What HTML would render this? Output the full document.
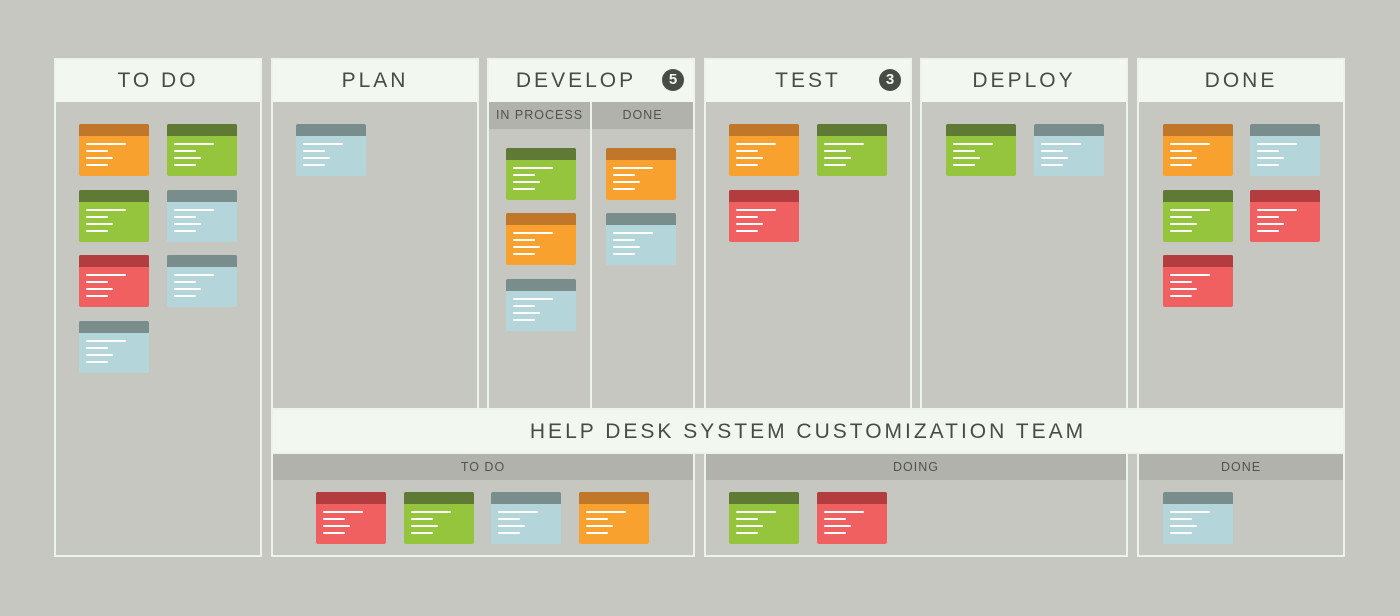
<!DOCTYPE html>
<html><head><meta charset="utf-8"><style>
body{margin:0;width:1400px;height:616px;background:#c6c7c1;position:relative;overflow:hidden;font-family:"Liberation Sans",sans-serif;}
.a{position:absolute;box-sizing:border-box;}
.col{border:2px solid #eef2ec;}
.hd{background:#f2f7f0;color:#474d46;font-size:21px;letter-spacing:3px;text-align:center;line-height:42px;}
.sh{background:#b1b2ab;color:#4f544d;font-size:12.5px;letter-spacing:1px;text-align:center;line-height:27px;}
.badge{position:absolute;width:22px;height:22px;border-radius:50%;background:#474d46;color:#f2f7f0;font-size:15px;line-height:22px;text-align:center;letter-spacing:0;font-weight:bold;}
.c{position:absolute;width:70px;height:52px;border-radius:2px;overflow:hidden;}
.c .t{height:12px;}
.c i{position:absolute;left:7px;height:2px;background:#fff;border-radius:1px;}
</style></head><body>
<div class="a col" style="left:54px;top:58px;width:208px;height:499px"></div>
<div class="a col" style="left:271px;top:58px;width:208px;height:352px"></div>
<div class="a col" style="left:487px;top:58px;width:208px;height:352px"></div>
<div class="a col" style="left:704px;top:58px;width:208px;height:352px"></div>
<div class="a col" style="left:920px;top:58px;width:208px;height:352px"></div>
<div class="a col" style="left:1137px;top:58px;width:208px;height:352px"></div>
<div class="a" style="left:590px;top:102px;width:2px;height:308px;background:#eef2ec"></div>
<div class="a hd" style="left:56px;top:60px;width:204px;height:42px">TO DO</div>
<div class="a hd" style="left:273px;top:60px;width:204px;height:42px">PLAN</div>
<div class="a hd" style="left:489px;top:60px;width:204px;height:42px;padding-right:30px">DEVELOP<span class="badge" style="left:173px;top:9px">5</span></div>
<div class="a hd" style="left:706px;top:60px;width:204px;height:42px">TEST<span class="badge" style="left:173px;top:9px">3</span></div>
<div class="a hd" style="left:922px;top:60px;width:204px;height:42px">DEPLOY</div>
<div class="a hd" style="left:1139px;top:60px;width:204px;height:42px">DONE</div>
<div class="a sh" style="left:489px;top:102px;width:101px;height:27px">IN PROCESS</div>
<div class="a sh" style="left:592px;top:102px;width:101px;height:27px">DONE</div>
<div class="a col" style="left:271px;top:408px;width:1074px;height:46px;background:#f2f7f0"></div>
<div class="a hd" style="left:273px;top:410px;width:1070px;height:43px;line-height:44px;background:transparent">HELP DESK SYSTEM CUSTOMIZATION TEAM</div>
<div class="a col" style="left:271px;top:454px;width:424px;height:103px;border-top:none"></div>
<div class="a col" style="left:704px;top:454px;width:424px;height:103px;border-top:none"></div>
<div class="a col" style="left:1137px;top:454px;width:208px;height:103px;border-top:none"></div>
<div class="a sh" style="left:273px;top:454px;width:420px;height:26px">TO DO</div>
<div class="a sh" style="left:706px;top:454px;width:420px;height:26px">DOING</div>
<div class="a sh" style="left:1139px;top:454px;width:204px;height:26px">DONE</div>
<div id="cards"></div>
<script>
var C={o:['#f9a12e','#c0772a'],g:['#95c43d','#5f7a35'],b:['#b4d6da','#798d8d'],r:['#f16060','#b23c3e']};
var L=[[79,124,'o'],[167,124,'g'],[79,190,'g'],[167,190,'b'],[79,255,'r'],[167,255,'b'],[79,321,'b'],
[296,124,'b'],[506,148,'g'],[506,213,'o'],[506,279,'b'],[606,148,'o'],[606,213,'b'],
[729,124,'o'],[817,124,'g'],[729,190,'r'],[946,124,'g'],[1034,124,'b'],
[1163,124,'o'],[1250,124,'b'],[1163,190,'g'],[1250,190,'r'],[1163,255,'r'],
[316,492,'r'],[404,492,'g'],[491,492,'b'],[579,492,'o'],[729,492,'g'],[817,492,'r'],[1163,492,'b']];
var h='';L.forEach(function(c){var k=C[c[2]];h+='<div class="c" style="left:'+c[0]+'px;top:'+c[1]+'px;background:'+k[0]+'"><div class="t" style="background:'+k[1]+'"></div><i style="top:19px;width:40px"></i><i style="top:26px;width:22px"></i><i style="top:33px;width:27px"></i><i style="top:40px;width:22px"></i></div>';});
document.getElementById('cards').innerHTML=h;
</script>
</body></html>
